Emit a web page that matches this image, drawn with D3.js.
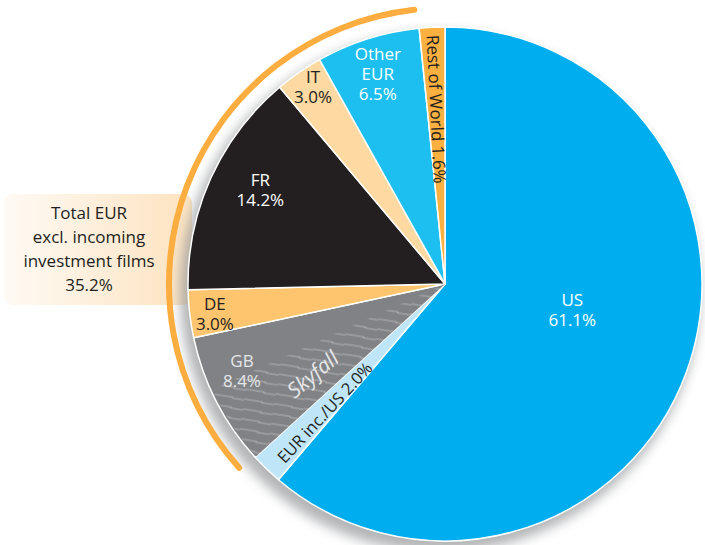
<!DOCTYPE html>
<html>
<head>
<meta charset="utf-8">
<script src="https://cdn.jsdelivr.net/npm/d3@7"></script>
<style>
  body { margin: 0; background: #fff; }
  text { font-family: "Open Sans", "Noto Sans", sans-serif; }
</style>
</head>
<body>
<svg id="chart" width="705" height="545"></svg>
<script>
// shares of admissions, clockwise from 12 o'clock
const categories = ['US', 'EUR inc./US', 'GB', 'DE', 'FR', 'IT', 'Other EUR', 'Rest of World'];
const shares = [61.1, 2.0, 8.4, 3.0, 14.2, 3.0, 6.5, 1.6];
const skyfallShare = 5.0;            // part of GB
const eurGroup = ['GB', 'DE', 'FR', 'IT', 'Other EUR'];
const eurTotal = 35.2;
const eurTotalLines = ['Total EUR', 'excl. incoming', 'investment films'];

const W = 705, H = 545;
const cx = 445, cy = 284, R = 257;

const color = d3.scaleOrdinal()
	.domain(categories)
	.range(['#00aeef', '#bfe6f8', '#808285', '#fec46e', '#231f20', '#fed9a1', '#1cbfef', '#fbb040']);

const textColor = {
	'US': '#ffffff', 'EUR inc./US': '#231f20', 'GB': '#e6e7e8', 'DE': '#231f20',
	'FR': '#ffffff', 'IT': '#231f20', 'Other EUR': '#ffffff', 'Rest of World': '#231f20'
};
// label radius and angle nudge (deg) for each slice
const labelPlace = {
	'US': [130, -8.5], 'EUR inc./US': [176, -1], 'GB': [221, 4], 'DE': [232, -0.7],
	'FR': [207, 2.5], 'IT': [237, 0.8], 'Other EUR': [220, -0.3], 'Rest of World': [175, 0]
};
const rotated = { 'EUR inc./US': true, 'Rest of World': true };

const svg = d3.select('#chart');
const defs = svg.append('defs');

defs.append('filter').attr('id', 'blur')
	.attr('x', '-20%').attr('y', '-20%').attr('width', '140%').attr('height', '140%')
	.append('feGaussianBlur').attr('stdDeviation', 6);

var grad = defs.append('linearGradient').attr('id', 'boxGrad')
	.attr('x1', 0).attr('x2', 1).attr('y1', 0).attr('y2', 0);
grad.append('stop').attr('offset', 0).attr('stop-color', '#fefaf4');
grad.append('stop').attr('offset', 1).attr('stop-color', '#fde3c0');

var hatch = defs.append('pattern').attr('id', 'hatch')
	.attr('patternUnits', 'userSpaceOnUse')
	.attr('width', 30).attr('height', 10)
	.attr('patternTransform', 'rotate(9)');
hatch.append('rect').attr('width', 30).attr('height', 10).attr('fill', '#808285');
hatch.append('path')
	.attr('d', 'M0,5 H18 V6 H30')
	.attr('stroke', '#b1b3b6').attr('stroke-width', 1.1).attr('fill', 'none');

// label box on the left
svg.append('rect')
	.attr('x', 4).attr('y', 194).attr('width', 188).attr('height', 111).attr('rx', 9)
	.attr('fill', 'url(#boxGrad)');
svg.append('text')
	.attr('x', 89).attr('y', 219)
	.attr('text-anchor', 'middle').attr('font-size', 17).attr('fill', '#231f20')
	.selectAll('tspan').data(eurTotalLines.concat([eurTotal.toFixed(1) + '%'])).enter()
	.append('tspan')
		.attr('x', 89)
		.attr('y', function(d, i){ return 219 + i * 24; })
		.text(function(d){ return d; });

const g = svg.append('g').attr('transform', 'translate(' + cx + ',' + cy + ')');

// soft shadow under the pie
g.append('circle')
	.attr('cx', -5).attr('cy', 8).attr('r', R + 3)
	.attr('fill', '#9a9c9f').attr('opacity', 0.75)
	.attr('filter', 'url(#blur)');

const data = categories.map(function(c, i){ return { cat: c, value: shares[i] }; });
const pie = d3.pie().sort(null).value(function(d){ return d.value; });
const arcs = pie(data);
const arc = d3.arc().innerRadius(0).outerRadius(R);

g.selectAll('path.slice').data(arcs).enter()
	.append('path')
		.attr('class', 'slice')
		.attr('d', arc)
		.attr('fill', function(d){ return color(d.data.cat); })
		.attr('stroke', '#fff')
		.attr('stroke-width', 1.5)
		.attr('stroke-linejoin', 'round');

// Skyfall part of GB, hatched
const total = d3.sum(shares);
const angle = d3.scaleLinear().domain([0, total]).range([0, 2 * Math.PI]);
const gb = arcs[categories.indexOf('GB')];
const sky = { startAngle: gb.startAngle, endAngle: gb.startAngle + angle(skyfallShare) };
g.append('path')
	.attr('d', d3.arc().innerRadius(0).outerRadius(R - 1.5)(sky))
	.attr('fill', 'url(#hatch)');

// orange bracket arc around the european slices
const eurArcs = arcs.filter(function(d){ return eurGroup.indexOf(d.data.cat) >= 0; });
g.append('path')
	.attr('d', d3.arc().innerRadius(273).outerRadius(279).cornerRadius(3)({
		startAngle: d3.min(eurArcs, function(d){ return d.startAngle; }),
		endAngle: d3.max(eurArcs, function(d){ return d.endAngle; })
	}))
	.attr('fill', '#fbad3f');

// slice labels
function polar(r, a){ return [r * Math.sin(a), -r * Math.cos(a)]; }
arcs.forEach(function(d){
	var c = d.data.cat;
	var p = labelPlace[c];
	var a = (d.startAngle + d.endAngle) / 2 + p[1] * Math.PI / 180;
	var xy = polar(p[0], a);
	var pct = d.data.value.toFixed(1) + '%';
	if (rotated[c]) {
		var rot = a * 180 / Math.PI - 90 - 180;  // reading inward
		if (c === 'Rest of World') rot = a * 180 / Math.PI + 90 - 360;
		g.append('text')
			.attr('transform', 'translate(' + xy[0] + ',' + xy[1] + ') rotate(' + rot + ')')
			.attr('text-anchor', 'middle').attr('dy', '0.35em')
			.attr('font-size', c === 'Rest of World' ? 17 : 16.5)
			.attr('fill', textColor[c])
			.text(c + ' ' + pct);
		return;
	}
	var lines = c === 'Other EUR' ? ['Other', 'EUR', pct] : [c, pct];
	var lh = 20;
	g.append('text')
		.attr('text-anchor', 'middle').attr('font-size', 17)
		.attr('fill', textColor[c])
		.selectAll('tspan').data(lines).enter()
		.append('tspan')
			.attr('x', xy[0])
			.attr('y', function(t, i){ return xy[1] + (i - (lines.length - 1) / 2) * lh; })
			.attr('dy', '0.35em')
			.text(function(t){ return t; });
});

// Skyfall caption inside the hatched part
var skyA = (sky.startAngle + sky.endAngle) / 2;
var skyXY = polar(160, skyA - 1 * Math.PI / 180);
g.append('text')
	.attr('transform', 'translate(' + skyXY[0] + ',' + skyXY[1] + ') rotate(-40)')
	.attr('text-anchor', 'middle').attr('dy', '0.35em')
	.attr('font-size', 21).attr('font-style', 'italic')
	.attr('fill', '#e6e7e8')
	.text('Skyfall');
</script>
</body>
</html>
